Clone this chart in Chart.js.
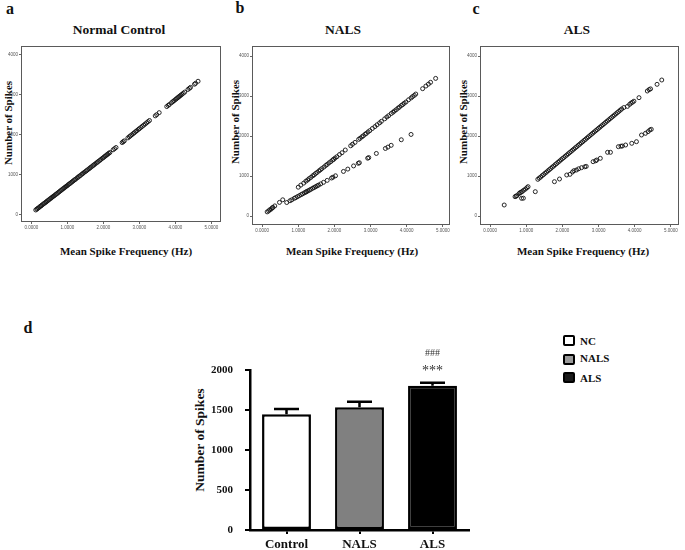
<!DOCTYPE html>
<html><head><meta charset="utf-8">
<script src="https://cdn.jsdelivr.net/npm/chart.js@4.4.1/dist/chart.umd.min.js"></script>
<style>
html,body{margin:0;padding:0;background:#fff;}
body{width:685px;height:550px;position:relative;overflow:hidden;font-family:"Liberation Serif","Times New Roman",serif;}
.t{position:absolute;font-weight:bold;color:#111;white-space:nowrap;transform:translate(-50%,-50%);line-height:1;}
.v{transform:translate(-50%,-50%) rotate(-90deg);}
canvas{position:absolute;}
.lb{position:absolute;width:12px;height:11px;box-sizing:border-box;border:2px solid #000;border-radius:2px;}
</style></head><body>
<!-- panel letters -->
<div class="t" style="left:10px;top:9px;font-size:16px">a</div>
<div class="t" style="left:240px;top:8px;font-size:16px">b</div>
<div class="t" style="left:476px;top:9px;font-size:16px">c</div>
<div class="t" style="left:28px;top:328px;font-size:16px">d</div>
<!-- panel titles -->
<div class="t" style="left:119px;top:30px;font-size:13.5px">Normal Control</div>
<div class="t" style="left:343px;top:30px;font-size:13.5px">NALS</div>
<div class="t" style="left:577px;top:30px;font-size:13.5px">ALS</div>
<!-- axis titles -->
<div class="t v" style="left:8px;top:123px;font-size:11px">Number of Spikes</div>
<div class="t v" style="left:235px;top:122px;font-size:11px">Number of Spikes</div>
<div class="t v" style="left:463px;top:122px;font-size:11px">Number of Spikes</div>
<div class="t" style="left:126px;top:251px;font-size:11px">Mean Spike Frequency (Hz)</div>
<div class="t" style="left:352px;top:251px;font-size:11px">Mean Spike Frequency (Hz)</div>
<div class="t" style="left:583px;top:251px;font-size:11px">Mean Spike Frequency (Hz)</div>
<div class="t v" style="left:200px;top:440px;font-size:13.5px">Number of Spikes</div>

<canvas id="ca" width="226" height="196" style="left:0px;top:40px"></canvas>
<canvas id="cb" width="225" height="199" style="left:230px;top:40px"></canvas>
<canvas id="cc" width="226" height="199" style="left:458px;top:40px"></canvas>
<canvas id="cd" width="300" height="220" style="left:180px;top:330px"></canvas>
<div id="legend"></div>

<script>
// ---------- scatter data ----------
const scatterXTicks = [0, 1, 2, 3, 4, 5];
const scatterXTickLabels = ['0.0000', '1.0000', '2.0000', '3.0000', '4.0000', '5.0000'];
const scatterYTicks = [0, 1000, 2000, 3000, 4000];
const scatterYTickLabels = ['0', '1000', '2000', '3000', '4000'];

// a: Normal Control
const ncX = [0.12,0.15,0.17,0.20,0.23,0.26,0.28,0.31,0.34,0.37,0.40,0.42,0.45,0.48,0.51,0.54,0.57,0.60,0.63,0.66,0.69,0.72,0.75,0.78,0.81,0.84,0.87,0.90,0.93,0.96,0.99,1.02,1.05,1.08,1.11,1.14,1.17,1.20,1.23,1.27,1.30,1.33,1.36,1.40,1.43,1.46,1.50,1.53,1.56,1.60,1.63,1.66,1.70,1.73,1.76,1.80,1.83,1.86,1.90,1.93,1.97,2.00,2.03,2.06,2.09,2.12,2.15,2.18,
  2.27,2.31,2.35,2.52,2.55,2.58,2.68,2.72,2.75,2.79,2.83,2.86,2.90,2.93,2.97,3.00,3.04,3.08,3.12,3.16,3.20,3.24,3.28,3.44,3.48,3.55,3.76,3.80,3.83,3.89,3.93,3.96,4.00,4.03,4.06,4.09,4.12,4.15,4.18,4.22,4.26,4.35,4.39,4.42,4.53,4.56,4.63];
const ncY = [109,130,146,163,188,207,222,243,266,283,305,318,342,360,384,402,425,447,464,488,508,527,551,570,594,612,636,654,677,699,716,741,762,780,803,823,845,866,884,915,934,958,975,1006,1025,1049,1074,1095,1117,1143,1166,1188,1214,1236,1257,1286,1305,1329,1353,1378,1405,1424,1449,1466,1491,1508,1533,1551,
  1620,1648,1677,1801,1823,1844,1918,1947,1969,1998,2027,2049,2078,2100,2129,2151,2180,2209,2238,2267,2296,2326,2355,2471,2501,2552,2705,2734,2756,2800,2829,2851,2880,2902,2924,2945,2967,2989,3011,3040,3069,3135,3164,3186,3266,3288,3340];

// b: NALS (upper and lower bands)
const nalsUpperX = [0.14,0.18,0.21,0.25,0.28,0.30,0.35,0.48,0.57,1.00,1.07,1.15,1.21,1.26,1.30,1.35,1.40,1.44,1.48,1.52,1.57,1.61,1.65,1.71,1.76,1.80,1.85,1.90,1.95,1.98,2.02,2.07,2.14,2.21,2.30,2.45,2.50,2.57,2.67,2.71,2.76,2.80,2.85,2.88,2.93,2.98,3.05,3.12,3.18,3.25,3.30,3.39,3.45,3.50,3.57,3.62,3.66,3.71,3.76,3.80,3.85,3.89,3.93,3.98,4.05,4.12,4.16,4.21,4.25,4.44,4.53,4.60,4.66,4.80];
const nalsUpperY = [103,126,155,172,205,214,252,340,405,720,772,822,870,901,935,966,1006,1030,1063,1089,1127,1152,1185,1224,1263,1290,1328,1360,1399,1418,1450,1483,1536,1582,1650,1755,1794,1840,1916,1942,1980,2006,2045,2063,2102,2135,2188,2235,2281,2328,2367,2429,2475,2508,2561,2594,2625,2658,2697,2723,2762,2787,2819,2851,2905,2951,2984,3016,3049,3183,3249,3297,3342,3440];
const nalsLowerX = [0.68,0.77,0.82,0.89,0.93,0.98,1.03,1.08,1.12,1.17,1.21,1.23,1.27,1.31,1.35,1.40,1.44,1.48,1.52,1.56,1.62,1.70,1.80,1.92,1.96,2.03,2.25,2.37,2.53,2.66,2.69,2.92,2.95,3.16,3.41,3.48,3.57,3.85,4.12];
const nalsLowerY = [337,381,404,441,460,485,509,535,554,579,600,608,629,648,668,694,712,733,753,772,802,842,891,950,970,1005,1114,1173,1252,1317,1332,1445,1460,1564,1688,1723,1767,1906,2039];

// c: ALS (upper and lower bands)
const alsUpperX = [0.39,0.69,0.72,0.74,0.80,0.83,0.86,0.89,0.93,0.98,1.02,1.05,
  1.32,1.36,1.40,1.44,1.48,1.52,1.56,1.60,1.64,1.68,1.72,1.76,1.80,1.84,1.88,1.92,1.96,2.00,2.04,2.08,2.12,2.16,2.20,2.24,2.28,2.32,2.36,2.40,2.44,2.48,2.52,2.56,2.60,2.64,2.68,2.72,2.76,2.80,2.84,2.88,2.92,2.96,3.00,3.04,3.08,3.12,3.16,3.20,3.24,3.28,3.32,3.36,3.40,3.44,3.48,3.52,3.56,3.60,3.64,
  3.70,3.80,3.86,3.90,3.94,3.98,4.12,4.35,4.40,4.44,4.62,4.75];
const alsUpperY = [275,483,497,508,560,583,596,614,645,675,707,733,
  917,948,975,1009,1036,1070,1097,1130,1159,1190,1222,1250,1283,1311,1344,1372,1404,1434,1462,1494,1524,1554,1585,1613,1646,1675,1706,1735,1767,1796,1828,1855,1889,1917,1950,1978,2010,2040,2071,2100,2131,2160,2192,2221,2251,2282,2311,2343,2372,2402,2433,2463,2494,2523,2554,2584,2614,2645,2675,
  2712,2740,2790,2822,2845,2870,2958,3125,3160,3178,3292,3400];
const alsLowerX = [0.87,0.92,1.25,1.78,1.92,2.12,2.21,2.28,2.32,2.39,2.45,2.53,2.62,2.66,2.85,2.92,2.95,3.05,3.25,3.33,3.55,3.62,3.66,3.75,3.92,4.05,4.19,4.30,4.37,4.42,4.46];
const alsLowerY = [442,445,608,858,925,1025,1042,1100,1133,1150,1180,1208,1230,1240,1358,1380,1400,1442,1592,1592,1733,1745,1750,1775,1817,1858,2025,2067,2108,2150,2167];

// ---------- bar data ----------
const groups = ['Control', 'NALS', 'ALS'];
const meanSpikes = [1446, 1534, 1804];
const semSpikes = [66, 70, 37];
const barFills = ['#ffffff', '#808080', '#000000'];
const sigStars = ['', '', '***'];
const sigHashes = ['', '', '###'];
const legendLabels = ['NC', 'NALS', 'ALS'];
const legendFills = ['#ffffff', '#9a9a9a', '#1a1a1a'];
const barYTicks = [0, 500, 1000, 1500, 2000];
const barYTickLabels = ['0', '500', '1000', '1500', '2000'];

// ---------- helpers ----------
const frame = {
  id: 'frame',
  afterDraw(chart) {
    const a = chart.chartArea, c = chart.ctx;
    c.save(); c.strokeStyle = '#5a5a5a'; c.lineWidth = 1;
    c.strokeRect(Math.round(a.left) + 0.5, Math.round(a.top) + 0.5, Math.round(a.right - a.left) - 1, Math.round(a.bottom - a.top) - 1);
    c.restore();
  }
};

function pts(xs, ys) { return xs.map((x, i) => ({ x: x, y: ys[i] })); }

function scatterPanel(id, data, xr, yr, yW) {
  new Chart(document.getElementById(id), {
    type: 'scatter',
    data: { datasets: [{ data: data, pointRadius: 2, pointBorderWidth: 0.9, borderColor: '#111', backgroundColor: 'rgba(255,255,255,0)' }] },
    options: {
      responsive: false, animation: false, devicePixelRatio: 1,
      layout: { padding: { top: 6, right: 2, left: 0, bottom: 0 } },
      plugins: { legend: { display: false }, tooltip: { enabled: false } },
      scales: {
        x: {
          type: 'linear', min: xr[0], max: xr[1],
          afterBuildTicks: s => { s.ticks = scatterXTicks.map(v => ({ value: v })); },
          afterFit: s => { s.height = 14; s.paddingLeft = 0; s.paddingRight = 0; },
          ticks: { callback: (v) => scatterXTickLabels[scatterXTicks.indexOf(v)], font: { size: 4.5, family: 'Liberation Sans' }, color: '#555', padding: 1, maxRotation: 0, autoSkip: false },
          grid: { drawOnChartArea: false, drawTicks: true, tickLength: 2, color: '#666' },
          border: { display: false }
        },
        y: {
          type: 'linear', min: yr[0], max: yr[1],
          afterBuildTicks: s => { s.ticks = scatterYTicks.map(v => ({ value: v })); },
          afterFit: s => { s.width = yW; s.paddingTop = 0; s.paddingBottom = 0; },
          ticks: { callback: (v) => scatterYTickLabels[scatterYTicks.indexOf(v)], font: { size: 4.5, family: 'Liberation Sans' }, color: '#555', padding: 1, autoSkip: false },
          grid: { drawOnChartArea: false, drawTicks: true, tickLength: 2, color: '#666' },
          border: { display: false }
        }
      }
    },
    plugins: [frame]
  });
}

scatterPanel('ca', pts(ncX, ncY), [-0.29, 5.27], [-193, 4225], 21);
scatterPanel('cb', pts(nalsUpperX, nalsUpperY).concat(pts(nalsLowerX, nalsLowerY)), [-0.28, 5.20], [-225, 4250], 22);
scatterPanel('cc', pts(alsUpperX, alsUpperY).concat(pts(alsLowerX, alsLowerY)), [-0.28, 5.23], [-225, 4250], 22);

// ---------- bar chart ----------
const errorBars = {
  id: 'errorBars',
  afterDatasetsDraw(chart) {
    const c = chart.ctx, ys = chart.scales.y, meta = chart.getDatasetMeta(0);
    c.save();
    c.strokeStyle = '#000'; c.lineWidth = 2.5;
    meta.data.forEach((bar, i) => {
      const top = ys.getPixelForValue(meanSpikes[i] + semSpikes[i]);
      c.beginPath();
      c.moveTo(bar.x, bar.y); c.lineTo(bar.x, top);
      c.moveTo(bar.x - 12.5, top); c.lineTo(bar.x + 12.5, top);
      c.stroke();
      c.fillStyle = '#333'; c.textAlign = 'center'; c.textBaseline = 'middle';
      if (sigStars[i]) { c.font = '14px "Liberation Serif"'; c.fillText(sigStars[i], bar.x, top - 11); }
      if (sigHashes[i]) { c.font = '10px "Liberation Serif"'; c.fillText(sigHashes[i], bar.x, top - 29.5); }
    });
    c.restore();
  }
};

new Chart(document.getElementById('cd'), {
  type: 'bar',
  data: { labels: groups, datasets: [{ data: meanSpikes, backgroundColor: barFills, borderColor: '#000', borderWidth: 2.5, borderSkipped: false, barPercentage: 0.67, categoryPercentage: 1 }] },
  options: {
    responsive: false, animation: false, devicePixelRatio: 1,
    layout: { padding: { top: 40, right: 11, left: 0, bottom: 0 } },
    plugins: { legend: { display: false }, tooltip: { enabled: false } },
    scales: {
      x: {
        afterFit: s => { s.height = 20; s.paddingLeft = 0; s.paddingRight = 0; },
        ticks: { font: { size: 13, weight: 'bold', family: 'Liberation Serif' }, color: '#111', padding: 3, maxRotation: 0 },
        grid: { offset: false, drawOnChartArea: false, drawTicks: true, tickLength: 4, lineWidth: 2, color: '#000' },
        border: { color: '#000', width: 2.5 }
      },
      y: {
        min: 0, max: 2000,
        afterBuildTicks: s => { s.ticks = barYTicks.map(v => ({ value: v })); },
        afterFit: s => { s.width = 70; s.paddingTop = 0; s.paddingBottom = 0; },
        ticks: { callback: (v) => barYTickLabels[barYTicks.indexOf(v)], font: { size: 11, weight: 'bold', family: 'Liberation Serif' }, color: '#111', padding: 12 },
        grid: { drawOnChartArea: false, drawTicks: true, tickLength: 5, lineWidth: 2, color: '#000' },
        border: { color: '#000', width: 2.5 }
      }
    }
  },
  plugins: [errorBars]
});

// legend for panel d
const lg = document.getElementById('legend');
const legendTops = [335, 354, 372];
legendLabels.forEach((l, i) => {
  const b = document.createElement('div');
  b.className = 'lb'; b.style.left = '563px'; b.style.top = legendTops[i] + 'px'; b.style.background = legendFills[i];
  lg.appendChild(b);
  const t = document.createElement('div');
  t.className = 't'; t.style.transform = 'translate(0,-50%)'; t.style.left = '580px'; t.style.top = (legendTops[i] + 5.5 - (i === 1 ? 2 : 0)) + 'px'; t.style.fontSize = '11px';
  t.textContent = l;
  lg.appendChild(t);
});
</script>
</body></html>
